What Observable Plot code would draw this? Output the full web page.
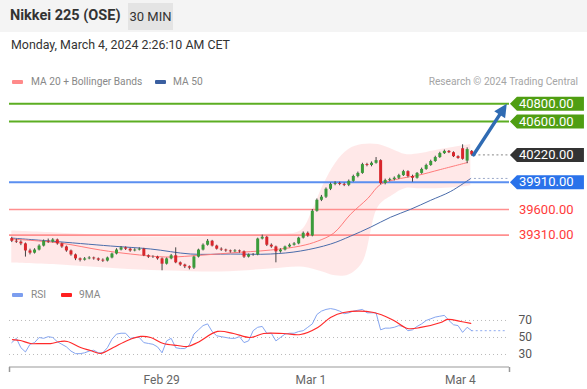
<!DOCTYPE html>
<html><head><meta charset="utf-8">
<script src="https://cdn.jsdelivr.net/npm/d3@7"></script>
<script src="https://cdn.jsdelivr.net/npm/@observablehq/plot@0.6"></script>
<style>
body{margin:0;background:#fff;font-family:Roboto,"Noto Sans",sans-serif;}
#wrap{position:relative;width:587px;height:389px;overflow:hidden;background:#fff;}
.abs{position:absolute;white-space:nowrap;}
#hdr{left:0;top:0;width:587px;height:32px;background:#f4f4f4;}
#title{left:10px;top:7px;font-size:14.5px;font-weight:bold;color:#333;}
#tf{left:128px;top:3px;width:45px;height:27px;background:#e4e4e4;font-size:13px;color:#333;line-height:27px;text-align:center;}
#date{left:11px;top:37px;font-size:12.4px;color:#333;}
.leg{font-size:10.2px;color:#888;}
.sw{position:absolute;width:11px;height:4px;border-radius:1px;}
#credit{right:9px;top:76px;font-size:10.2px;color:#a5a5a5;}
#main{left:0;top:90px;}
#rsi{left:0;top:300px;}
</style></head>
<body><div id="wrap"></div>
<script>
// ---------- data ----------
const title = "Nikkei 225 (OSE)";
const timeframe = "30 MIN";
const stamp = "Monday, March 4, 2024 2:26:10 AM CET";
const credit = "Research \u00a9 2024 Trading Central";

const opens = [39270,39240,39230,39210,39130,39105,39140,39185,39240,39230,
39255,39210,39175,39130,39085,39040,39025,39040,39050,39040,
39025,39015,39050,39095,39140,39165,39150,39130,39140,39150,
39075,39060,39060,39040,38980,39040,39075,38995,38970,38950,
38935,39060,39140,39195,39240,39185,39150,39140,39130,39120,
39130,39120,39060,39085,39085,39265,39285,39195,39175,39120,
39140,39175,39195,39210,39275,39330,39300,39580,39705,39740,
39830,39885,39895,39885,39875,39920,39975,40010,40110,40100,
40125,40155,39895,39930,39940,39955,39985,40030,39975,39955,
40010,40055,40100,40145,40190,40235,40260,40245,40200,40290,
40150,40260];
const closes = [39240,39230,39210,39130,39105,39140,39185,39240,39230,39255,
39210,39175,39130,39085,39040,39025,39040,39050,39040,39025,
39015,39050,39095,39140,39165,39150,39130,39140,39150,39075,
39060,39060,39040,38980,39040,39075,38995,38970,38950,38935,
39060,39140,39195,39240,39185,39150,39140,39130,39120,39130,
39120,39060,39085,39085,39265,39285,39195,39175,39120,39140,
39175,39195,39210,39275,39330,39300,39580,39705,39740,39830,
39885,39895,39885,39875,39920,39975,40010,40110,40100,40125,
40155,39895,39930,39940,39955,39985,40030,39975,39955,40010,
40055,40100,40145,40190,40235,40260,40245,40200,40180,40170,
40280,40220];
const highs = [39285,39260,39245,39220,39150,39155,39200,39255,39265,39270,
39265,39220,39185,39140,39095,39050,39055,39065,39060,39050,
39040,39060,39105,39155,39180,39175,39160,39155,39165,39160,
39085,39075,39070,39050,39050,39090,39165,39005,38980,38960,
39070,39150,39210,39260,39250,39195,39165,39150,39140,39145,
39140,39130,39095,39100,39275,39310,39295,39210,39185,39155,
39185,39210,39225,39285,39345,39345,39600,39720,39760,39845,
39900,39915,39910,39900,39935,39990,40025,40125,40125,40140,
40190,40165,39945,39955,39970,40000,40045,40040,39990,40020,
40070,40115,40160,40205,40250,40275,40270,40255,40210,40335,
40300,40270];
const lows = [39225,39215,39190,39060,39085,39095,39130,39175,39215,39220,
39195,39160,39115,39070,39020,39005,39015,39030,39025,39010,
39000,39005,39040,39085,39130,39135,39115,39120,39130,39065,
39045,39045,39025,38905,38970,39030,38985,38955,38930,38915,
38920,39050,39130,39185,39175,39140,39125,39115,39105,39110,
39105,39045,39050,39070,39075,39255,39180,39160,38995,39105,
39130,39165,39185,39200,39265,39285,39290,39570,39690,39725,
39815,39870,39870,39860,39860,39910,39960,40000,40085,40085,
40115,39880,39880,39915,39925,39940,39975,39960,39910,39945,
40000,40045,40090,40135,40180,40225,40235,40190,40170,40160,
40120,40205];

// Bollinger bands (sampled at candle index positions)
const bandIdx   = [0,10.7,23.9,34.9,45.8,56.8,63.4,66,68.3,71.1,74,77,80.5,83.6,86.5,89.8,94.2,98.1,100.8];
const bandUpper = [39355,39332,39298,39287,39298,39321,39355,39581,39863,40123,40281,40337,40337,40281,40224,40236,40281,40315,40337];
const bandLower = [38994,38971,38926,38903,38892,38926,38948,38926,38892,38847,38858,38994,39630,39760,39840,39835,39840,39850,39870];
// MA 20
const ma20Idx = [0,10.7,19.5,26.1,33.8,39.3,48,56.8,63.4,67.2,70.7,74.4,78.2,81,85.4,89.1,94.2,100.1];
const ma20Val = [39265,39219,39140,39095,39061,39073,39107,39140,39186,39242,39332,39547,39727,39886,39953,39987,40055,40134];
// MA 50
const ma50Idx = [0,8.5,21.7,30.5,39.3,48,56.8,63.4,70,74.4,78.8,83.2,87.6,92,96.4,100.8];
const ma50Val = [39276,39242,39186,39152,39095,39095,39095,39129,39208,39298,39400,39513,39603,39705,39806,39953];

// horizontal levels
const resistances = [40800, 40600];
const pivot = [39910];
const supports = [39600, 39310];
const lastPrice = 40220;

// RSI (one value per candle) and its 9-period MA (sampled)
const rsi = [44,49,38,33,42,44,50,49,51,50,45,42,39,34,31,31,32,34,35,32,
32,38,48,54,55,55,49,50,50,44,43,42,39,32,46,49,38,37,37,41,
54,59,64,66,57,52,51,50,49,49,51,44,46,58,62,63,55,55,46,50,
54,55,55,57,58,62,66,77,81,83,84,83,81,78,79,81,82,83,79,79,
79,59,61,61,62,64,63,58,59,63,66,70,72,74,75,76,70,65,64,56,
62,58];
const ma9Idx = [0.15,1.9,4.1,6.3,8.5,10.7,12.2,15.1,17.3,19.5,22.3,25.4,28.3,30.5,33.3,36.4,38.6,40.8,45.2,48.7,52.4,55.3,59.7,63.4,67.2,70,72.9,79.5,83.9,86.9,89.8,94.2,95.7,98.6,100.8];
const ma9Val = [47.6,46.5,42.9,42.9,42.9,45.3,45.3,38.2,34.7,31.2,38.2,46.5,51.2,50,42.9,40.6,39.4,44.1,57.1,54.7,50,54.7,54.7,53.5,61.8,73.5,79.4,79.4,70,60.6,61.8,67.6,71.2,68.8,66.5];
const rsiLevels = [30, 50, 70];
const dayTicks = [32.9, 65.7, 98.5];
const dayLabels = ["Feb 29", "Mar 1", "Mar 4"];

// ---------- layout / style ----------
const W = 587, ML = 9, MR = 78, HMAIN = 190;
const xDomain = [-0.5, 109.3];
const yDomain = [38794.5, 40951];
const tagTip = 109.4;
const font = "Roboto, 'Noto Sans', sans-serif";
const green = "#4f9e12", blueTag = "#2a72ea", dark = "#333333", redTxt = "#ff3b3b";
const upCol = "#3b9b3b", downCol = "#d8262c", arrowCol = "#2f6bb3";

const candles = closes.map((c, i) => ({i, o: opens[i], c, h: highs[i], l: lows[i]}));
const band = bandIdx.map((x, k) => ({x, lo: bandLower[k], hi: bandUpper[k]}));
const ma20 = ma20Idx.map((x, k) => ({x, v: ma20Val[k]}));
const ma50 = ma50Idx.map((x, k) => ({x, v: ma50Val[k]}));
const lastIdx = closes.length - 1;

const tagShape = {draw(ctx){ ctx.moveTo(0,0); ctx.lineTo(7,-7); ctx.lineTo(74,-7); ctx.lineTo(74,7); ctx.lineTo(7,7); ctx.closePath(); }};
const tickShape = {draw(ctx){ ctx.moveTo(0,0); ctx.lineTo(0,5); }};
const headShape = {draw(ctx){ ctx.moveTo(0,0); ctx.lineTo(-13,-6.5); ctx.lineTo(-13,6.5); ctx.closePath(); }};

// arrow from last candle to the first target
const arrowData = [{x1: lastIdx + 0.4, y1: lastPrice, x2: 108.7, y2: resistances[0]}];
const kx = (W - ML - MR) / (xDomain[1] - xDomain[0]);
const ky = HMAIN / (yDomain[1] - yDomain[0]);
const arrowAngle = Math.atan2(-(arrowData[0].y2 - arrowData[0].y1) * ky, (arrowData[0].x2 - arrowData[0].x1) * kx) * 180 / Math.PI;

const tags = [
  ...resistances.map(v => ({v, bg: green})),
  {v: lastPrice, bg: dark},
  ...pivot.map(v => ({v, bg: blueTag}))
];

const main = Plot.plot({
  width: W, height: HMAIN, marginLeft: ML, marginRight: MR, marginTop: 0, marginBottom: 0,
  x: {domain: xDomain, axis: null},
  y: {domain: yDomain, axis: null},
  style: {fontFamily: font, overflow: "visible", background: "transparent"},
  marks: [
    Plot.areaY(band, {x: "x", y1: "lo", y2: "hi", fill: "#ffd6d6", fillOpacity: 0.55, curve: "catmull-rom"}),
    Plot.ruleY(supports, {stroke: "#ff8f8f", strokeWidth: 1.6}),
    Plot.ruleY(resistances, {stroke: "#5cae22", strokeWidth: 2}),
    Plot.ruleY(pivot, {stroke: "#5b8ff0", strokeWidth: 2}),
    Plot.line(ma50, {x: "x", y: "v", stroke: "#4a6cab", strokeWidth: 1, curve: "catmull-rom"}),
    Plot.line(ma20, {x: "x", y: "v", stroke: "#ff7b7b", strokeWidth: 1, curve: "catmull-rom"}),
    Plot.ruleX(candles, {x: "i", y1: "l", y2: "h", stroke: "#444", strokeWidth: 1}),
    Plot.ruleX(candles, {x: "i", y1: "o", y2: "c", stroke: d => d.c >= d.o ? upCol : downCol, strokeWidth: 3}),
    Plot.ruleY([lastPrice], {x1: lastIdx + 0.6, x2: tagTip, stroke: "#888", strokeDasharray: "2,2.5"}),
    Plot.ruleY([ma50Val[ma50Val.length - 1]], {x1: lastIdx + 0.6, x2: tagTip, stroke: "#9aa8c8", strokeDasharray: "2,2.5"}),
    Plot.arrow(arrowData, {x1: "x1", y1: "y1", x2: "x2", y2: "y2", stroke: arrowCol, strokeWidth: 3.5, headLength: 0, insetEnd: 9}),
    Plot.dot(arrowData, {x: "x2", y: "y2", symbol: headShape, r: 5, fill: arrowCol, stroke: "none", rotate: arrowAngle}),
    Plot.dot(tags, {x: () => tagTip, y: "v", symbol: tagShape, r: 5, fill: "bg", stroke: "none"}),
    Plot.text(tags, {x: () => tagTip, y: "v", dx: 9, text: d => d.v.toFixed(2), textAnchor: "start", fill: "white", fontSize: 13}),
    Plot.text(supports, {x: () => tagTip, y: d => d, dx: 9, text: d => d.toFixed(2), textAnchor: "start", fill: redTxt, fontSize: 13})
  ]
});
main.id = "main"; main.classList.add("abs");

const rsiData = rsi.map((v, i) => ({i, v}));
const ma9 = ma9Idx.map((x, k) => ({x, v: ma9Val[k]}));
const rsiY = [15.3, 93.5];
const rsiPlot = Plot.plot({
  width: W, height: 89, marginLeft: ML, marginRight: MR, marginTop: 0, marginBottom: 22.5,
  x: {domain: xDomain, axis: null},
  y: {domain: rsiY, axis: null},
  style: {fontFamily: font, overflow: "visible", background: "transparent"},
  marks: [
    Plot.ruleY(rsiLevels, {x1: xDomain[0], x2: 108.8, stroke: "#bbb", strokeDasharray: "1,3"}),
    Plot.text(rsiLevels, {x: () => xDomain[1], y: d => d, dx: 9, text: d => String(d), textAnchor: "start", fill: "#555", fontSize: 12}),
    Plot.ruleY([rsi[lastIdx]], {x1: lastIdx, x2: 108.8, stroke: "#8eaaf0", strokeDasharray: "2,2.5"}),
    Plot.line(rsiData, {x: "i", y: "v", stroke: "#86a6f0", strokeWidth: 1}),
    Plot.line(ma9, {x: "x", y: "v", stroke: "#ff2a2a", strokeWidth: 1.2, curve: "catmull-rom"}),
    Plot.ruleY([rsiY[0]], {stroke: "#999", strokeWidth: 1}),
    Plot.dot(xDomain, {x: d => d, y: () => rsiY[0], symbol: tickShape, r: 3, stroke: "#999", fill: "none"}),
    Plot.text(dayTicks, {x: d => d, y: () => rsiY[0], dy: 13, text: (d, i) => dayLabels[i], fill: "#666", fontSize: 12})
  ]
});
rsiPlot.id = "rsi"; rsiPlot.classList.add("abs");

// ---------- page ----------
const wrap = document.getElementById("wrap");
wrap.innerHTML = `
<div class="abs" id="hdr"></div>
<div class="abs" id="title">${title}</div>
<div class="abs" id="tf">${timeframe}</div>
<div class="abs" id="date">${stamp}</div>
<div class="sw" style="left:12px;top:80px;background:#ff8a8a"></div>
<div class="abs leg" style="left:31px;top:76px">MA 20 + Bollinger Bands</div>
<div class="sw" style="left:155px;top:80px;background:#3a5fa0"></div>
<div class="abs leg" style="left:173px;top:76px">MA 50</div>
<div class="abs" id="credit">${credit}</div>
<div class="sw" style="left:12px;top:293px;background:#7c9eef"></div>
<div class="abs leg" style="left:31px;top:289px">RSI</div>
<div class="sw" style="left:61px;top:293px;background:#ff2020"></div>
<div class="abs leg" style="left:79px;top:289px">9MA</div>
`;
wrap.appendChild(main);
wrap.appendChild(rsiPlot);
</script>
</body></html>
